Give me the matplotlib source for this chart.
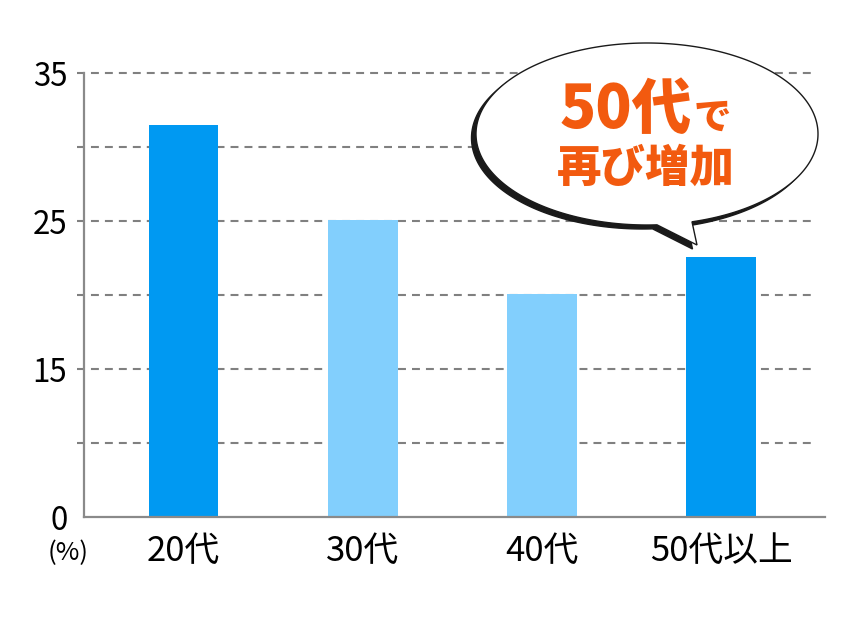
import numpy as np
import matplotlib
matplotlib.use("Agg")
import matplotlib.pyplot as plt
from matplotlib.patches import Polygon

plt.rcParams['font.family'] = ['Noto Sans CJK JP', 'DejaVu Sans']

# ---- data ----
categories = ["20代", "30代", "40代", "50代以上"]
values = [31.5, 25.1, 20.1, 22.6]          # read on the drawn scale
highlight = [True, False, False, True]
tick_values = [5, 15, 25, 35]
tick_labels = ["0", "15", "25", "35"]
grid_values = [10, 15, 20, 25, 30, 35]
bubble_lines = ["50代で", "再び増加"]

DARK = "#0099f2"
LIGHT = "#82cffd"
GRID = "#808080"
ORANGE = "#f25a0f"

W, H = 860, 631
fig = plt.figure(figsize=(W / 100, H / 100), dpi=100)
ax = fig.add_axes([84 / W, 114 / H, (825 - 84) / W, (517 - 73) / H])

x = np.arange(len(categories))
colors = [DARK if h else LIGHT for h in highlight]
ax.bar(x, values, width=0.39, color=colors, zorder=3, bottom=0)

ax.set_xlim(-0.555, 3.58)
ax.set_ylim(5, 35)

# dashed grid lines (extend a little left of the axis)
for gv in grid_values:
    ax.plot([-0.595, 3.53], [gv, gv], color=GRID, lw=1.5,
            dashes=(3.8, 2.9), zorder=1, clip_on=False)

for s in ["top", "right"]:
    ax.spines[s].set_visible(False)
for s in ["left", "bottom"]:
    ax.spines[s].set_color("#8a8a8a")
    ax.spines[s].set_linewidth(1.6)
ax.spines["bottom"].set_zorder(4)

ax.set_yticks(tick_values)
ax.set_yticklabels(tick_labels, fontsize=22.5)
ax.tick_params(axis="y", length=0, pad=12)
ax.set_xticks(x)
ax.set_xticklabels(categories, fontsize=25)
ax.tick_params(axis="x", length=0, pad=12)

fig.text(68 / W, 1 - 553 / H, "(%)", fontsize=18.5, ha="center", va="center")

# ---- speech bubble (overlay in pixel coordinates) ----
ov = fig.add_axes([0, 0, 1, 1], zorder=10)
ov.set_xlim(0, W)
ov.set_ylim(H, 0)
ov.axis("off")

cx, cy, a, b = 647, 134, 171, 91
tip = (697, 245)
t1 = np.arccos((692 - cx) / a)
t2 = np.arccos((657 - cx) / a)
ts = np.linspace(t2, t1 + 2 * np.pi, 400)
pts = np.column_stack([cx + a * np.cos(ts), cy + b * np.sin(ts)])
pts = np.vstack([pts, tip])

shadow = Polygon(pts + np.array([-4.5, 4.0]), closed=True, facecolor="#1a1a1a",
                 edgecolor="#1a1a1a", lw=1.0)
ov.add_patch(shadow)
main = Polygon(pts, closed=True, facecolor="white", edgecolor="#1a1a1a", lw=1.0)
ov.add_patch(main)

ov.text(626, 110, "50代", fontsize=43, fontweight="black", color=ORANGE,
        ha="center", va="center")
ov.text(712, 118, "で", fontsize=27, fontweight="black", color=ORANGE,
        ha="center", va="center")
ov.text(646, 168, bubble_lines[1], fontsize=32, fontweight="black", color=ORANGE,
        ha="center", va="center")

fig.savefig("out.png", dpi=100, facecolor="white")
